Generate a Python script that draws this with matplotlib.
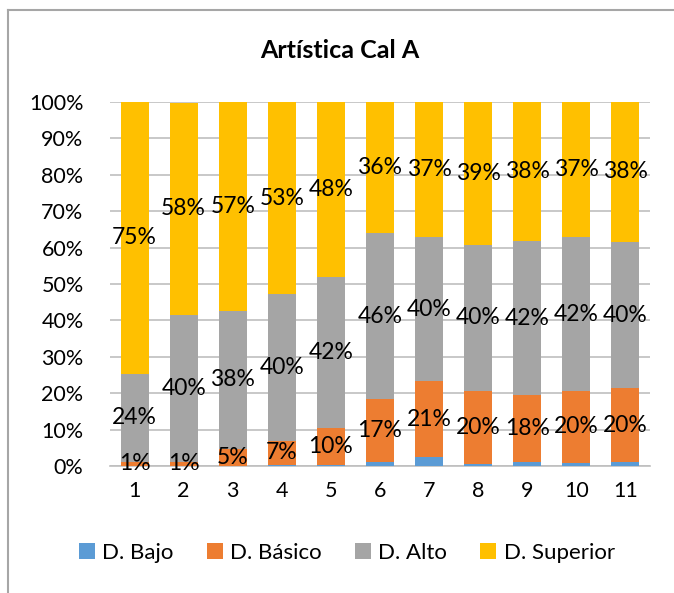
import matplotlib
matplotlib.use("Agg")
import matplotlib.pyplot as plt
from matplotlib.lines import Line2D
import numpy as np

categories = ["1", "2", "3", "4", "5", "6", "7", "8", "9", "10", "11"]
series_names = ["D. Bajo", "D. Básico", "D. Alto", "D. Superior"]
bajo = [0.0, 0.0, 0.0, 0.3, 0.3, 1.1, 2.5, 0.6, 1.2, 0.9, 1.2]
basico = [1.2, 1.2, 4.7, 6.6, 10.1, 17.2, 20.8, 20.1, 18.3, 19.8, 20.1]
alto = [24.1, 40.3, 38.0, 40.3, 41.6, 45.8, 39.6, 40.1, 42.3, 42.1, 40.3]
superior = [74.7, 58.3, 57.3, 52.8, 48.0, 35.9, 37.1, 39.2, 38.2, 37.2, 38.4]
yticks = [0, 10, 20, 30, 40, 50, 60, 70, 80, 90, 100]

colors = ["#5B9BD5", "#ED7D31", "#A5A5A5", "#FFC000"]
show_labels = [False, True, True, True]

plt.rcParams['font.family'] = ['Lato', 'DejaVu Sans']

fig = plt.figure(figsize=(6.74, 5.93), dpi=100)
ax = fig.add_axes([110/674, 1-466/593, 540/674, 364/593])

x = np.arange(1, len(categories) + 1)
width = 0.57
bottom = np.zeros(len(categories))
for name, vals, col, lab in zip(series_names, [bajo, basico, alto, superior], colors, show_labels):
    v = np.array(vals)
    ax.bar(x, v, width, bottom=bottom, color=col, label=name, zorder=3, linewidth=0)
    if lab:
        for xi, b, vi in zip(x, bottom, v):
            ax.text(xi, b + vi/2, f"{round(vi):d}%", ha="center", va="center",
                    fontsize=16.5, color="black", zorder=5)
    bottom += v

ax.set_xlim(0.5, len(categories) + 0.5)
ax.set_ylim(0, 100)
ax.set_yticks(yticks)
ax.set_yticklabels([f"{t}%" for t in yticks], fontsize=15.5)
ax.set_xticks(x)
ax.set_xticklabels(categories, fontsize=15.5)
ax.tick_params(axis="both", length=0)
ax.tick_params(axis="y", pad=19)
ax.tick_params(axis="x", pad=11)
ax.yaxis.grid(True, color="#BFBFBF", linewidth=1.2, zorder=0)
for s in ["top", "right", "left"]:
    ax.spines[s].set_visible(False)
ax.spines["bottom"].set_color("#BFBFBF")
ax.spines["bottom"].set_linewidth(1.2)

fig.text(340/674, 1-50/593, "Artística Cal A", ha="center", va="center",
         fontsize=18, fontweight="bold")

handles = [Line2D([0], [0], marker="s", color="w", markerfacecolor=c,
                  markeredgewidth=0, markersize=11) for c in colors]
fig.legend(handles, series_names, loc="center", bbox_to_anchor=(347/674, 1-553/593),
           ncol=4, frameon=False, fontsize=16, handlelength=0.7, handletextpad=0.35,
           columnspacing=1.5)

# chart border (top and left visible)
fig.add_artist(Line2D([8/674, 1], [1-10/593, 1-10/593], color="#A6A6A6", linewidth=1.5, transform=fig.transFigure))
fig.add_artist(Line2D([8/674, 8/674], [0, 1-10/593], color="#A6A6A6", linewidth=1.5, transform=fig.transFigure))

fig.savefig("out.png", dpi=100)
